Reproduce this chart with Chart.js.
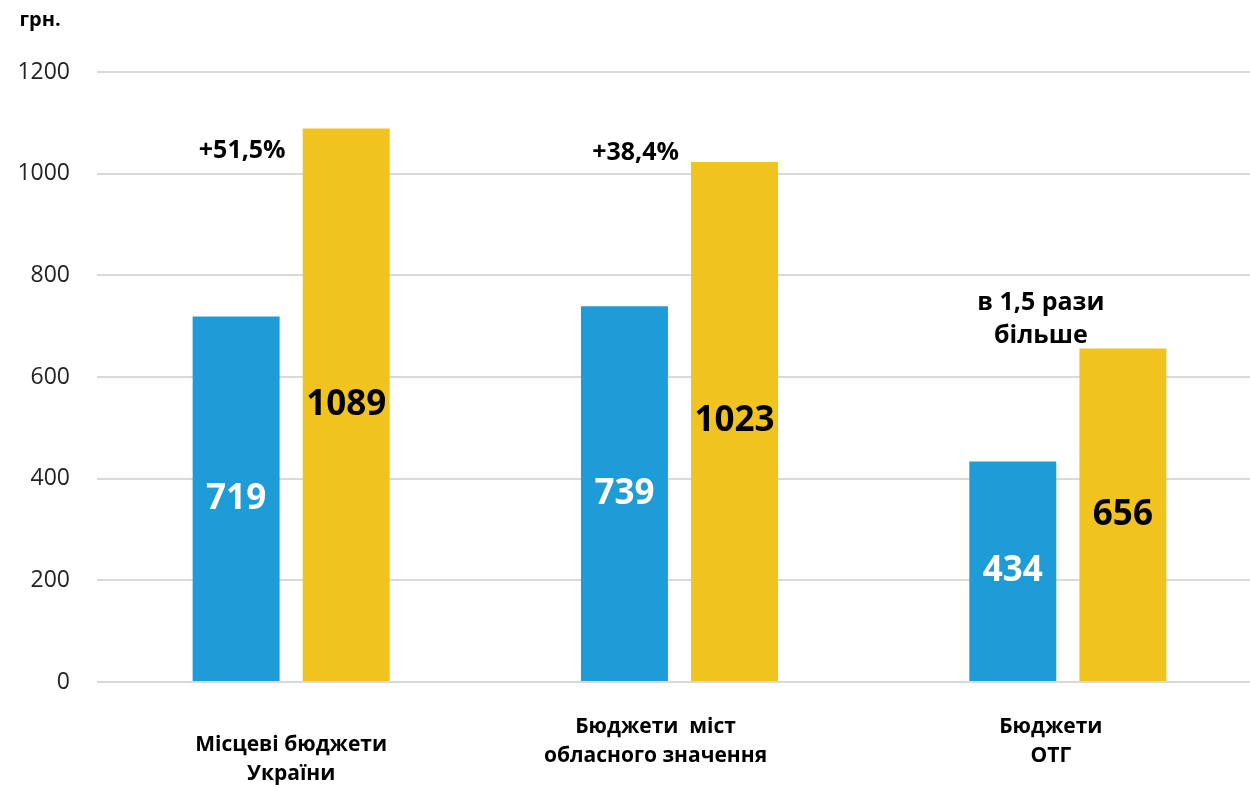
<!DOCTYPE html>
<html>
<head>
<meta charset="utf-8">
<script src="https://cdn.jsdelivr.net/npm/chart.js@4.4.1/dist/chart.umd.min.js"></script>
<style>
  html, body { margin: 0; padding: 0; background: #fff; overflow: hidden; }
  #wrap { width: 1262px; height: 787px; }
</style>
</head>
<body>
<div id="wrap"><canvas id="barChart"></canvas></div>
<script>
const categories = [
  ['Місцеві бюджети', 'України'],
  ['Бюджети  міст', 'обласного значення'],
  ['Бюджети', 'ОТГ']
];
const before = [719, 739, 434];
const after = [1089, 1023, 656];
const growthNotes = [['+51,5%'], ['+38,4%'], ['в 1,5 рази', 'більше']];
const yTicks = [0, 200, 400, 600, 800, 1000, 1200];
const unitLabel = 'грн.';

const BLUE = '#1E9CD7';
const YELLOW = '#F0C31E';
const FONT = "'Open Sans', 'Noto Sans', sans-serif";

// per-category placement tweaks (px) for the labels under the axis and notes above bars
const catLabelTop = [745, 727, 727];
const catLabelDx = [0, -24, -17];
const noteOffset = [[-104, 22], [-99, -9], [-82, -46]];

const labelsPlugin = {
  id: 'labelsPlugin',
  afterDraw(chart) {
    const ctx = chart.ctx;
    const xs = chart.scales.x;
    ctx.save();
    ctx.textAlign = 'center';
    ctx.textBaseline = 'middle';

    // values inside bars
    chart.data.datasets.forEach((ds, di) => {
      const meta = chart.getDatasetMeta(di);
      meta.data.forEach((bar, i) => {
        ctx.fillStyle = di === 0 ? '#ffffff' : '#000000';
        ctx.font = `bold 35px ${FONT}`;
        ctx.fillText(String(ds.data[i]), bar.x, (bar.y + bar.base) / 2);
      });
    });

    // growth notes next to the yellow bars
    const yMeta = chart.getDatasetMeta(1);
    ctx.fillStyle = '#000';
    ctx.font = `bold 25px ${FONT}`;
    growthNotes.forEach((lines, i) => {
      const bar = yMeta.data[i];
      lines.forEach((t, li) => {
        ctx.fillText(t, bar.x + noteOffset[i][0], bar.y + noteOffset[i][1] + li * 33);
      });
    });

    // category labels
    ctx.font = `bold 21px ${FONT}`;
    categories.forEach((lines, i) => {
      const cx = xs.getPixelForValue(i) + catLabelDx[i];
      lines.forEach((t, li) => {
        ctx.fillText(t, cx, catLabelTop[i] + li * 29);
      });
    });

    // unit
    ctx.font = `bold 20px ${FONT}`;
    ctx.fillText(unitLabel, 40, 20);
    ctx.restore();
  }
};

const ctx = document.getElementById('barChart').getContext('2d');
new Chart(ctx, {
  type: 'bar',
  data: {
    labels: categories.map(c => c.join(' ')),
    datasets: [
      { label: 'before', data: before, backgroundColor: BLUE },
      { label: 'after', data: after, backgroundColor: YELLOW }
    ]
  },
  options: {
    responsive: true,
    maintainAspectRatio: false,
    animation: false,
    layout: { padding: { top: 72, bottom: 97, left: 0, right: 0 } },
    categoryPercentage: 0.567,
    barPercentage: 0.79,
    plugins: {
      legend: { display: false },
      tooltip: { enabled: false }
    },
    scales: {
      x: {
        grid: { display: false },
        border: { display: false },
        ticks: { display: false }
      },
      y: {
        min: 0,
        max: 1200,
        afterBuildTicks: axis => { axis.ticks = yTicks.map(v => ({ value: v })); },
        afterFit: axis => { axis.width = 97; },
        border: { display: false },
        grid: { color: '#D9D9D9', lineWidth: 2, drawTicks: false },
        ticks: {
          color: '#222',
          padding: 27,
          font: { family: FONT, size: 23 },
          callback: v => String(v)
        }
      }
    }
  },
  plugins: [labelsPlugin]
});
</script>
</body>
</html>
